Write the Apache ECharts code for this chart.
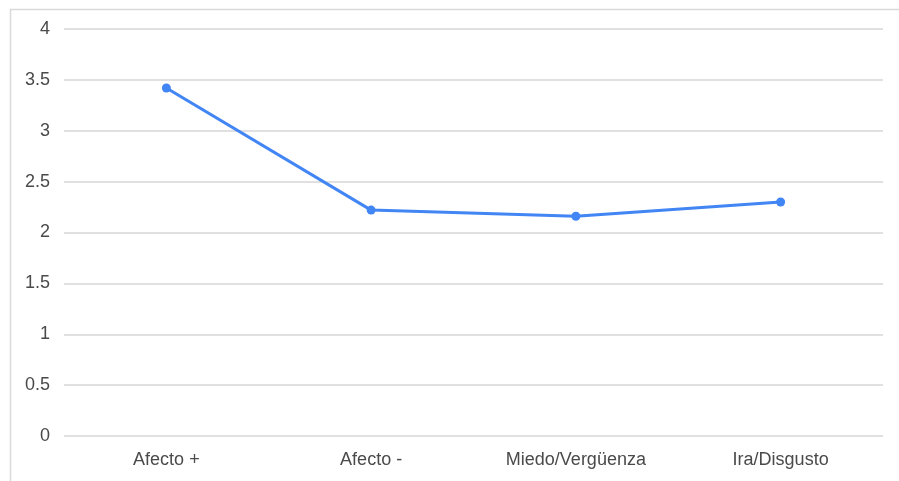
<!DOCTYPE html>
<html>
<head>
	<meta charset="utf-8">
	<title>Afecto chart</title>
	<style>
		body { margin: 0; background: #fff; }
	</style>
</head>
<body>
<script type="text/javascript" src="https://cdn.jsdelivr.net/npm/echarts@6/dist/echarts.min.js"></script>
<div id="container" style="width: 899px;height: 481px;"></div>
<script type="text/javascript">
    var categories = ['Afecto +', 'Afecto -', 'Miedo/Vergüenza', 'Ira/Disgusto'];
    var values = [3.42, 2.22, 2.16, 2.30];

    var myChart = echarts.init(document.getElementById('container'));
    var option = {
        animation: false,
        grid: { left: 64, right: 16, top: 29, bottom: 45 },
        graphic: [
            {
                // marco gris del gráfico
                type: 'rect',
                shape: { x: 10.5, y: 9.5, width: 1000, height: 1000 },
                style: { fill: 'none', stroke: '#d9d9d9', lineWidth: 1.5 }
            }
        ],
        xAxis: {
            type: 'category',
            data: categories,
            boundaryGap: true,
            axisLine: { show: false },
            axisTick: { show: false },
            axisLabel: { color: '#4a4a4a', fontSize: 18, fontFamily: 'Liberation Sans', margin: 15 }
        },
        yAxis: {
            type: 'value',
            min: 0,
            max: 4,
            interval: 0.5,
            axisLine: { show: false },
            axisTick: { show: false },
            axisLabel: { color: '#4a4a4a', fontSize: 18, fontFamily: 'Liberation Sans', margin: 14 },
            splitLine: { lineStyle: { color: '#d6d6d6', width: 1.5 } }
        },
        series: [
            {
                type: 'line',
                data: values,
                symbol: 'circle',
                symbolSize: 9,
                itemStyle: { color: '#4285f4' },
                lineStyle: { color: '#4285f4', width: 3 }
            }
        ]
    };
    myChart.setOption(option);
    window.addEventListener('resize', myChart.resize);
</script>
</body>
</html>
